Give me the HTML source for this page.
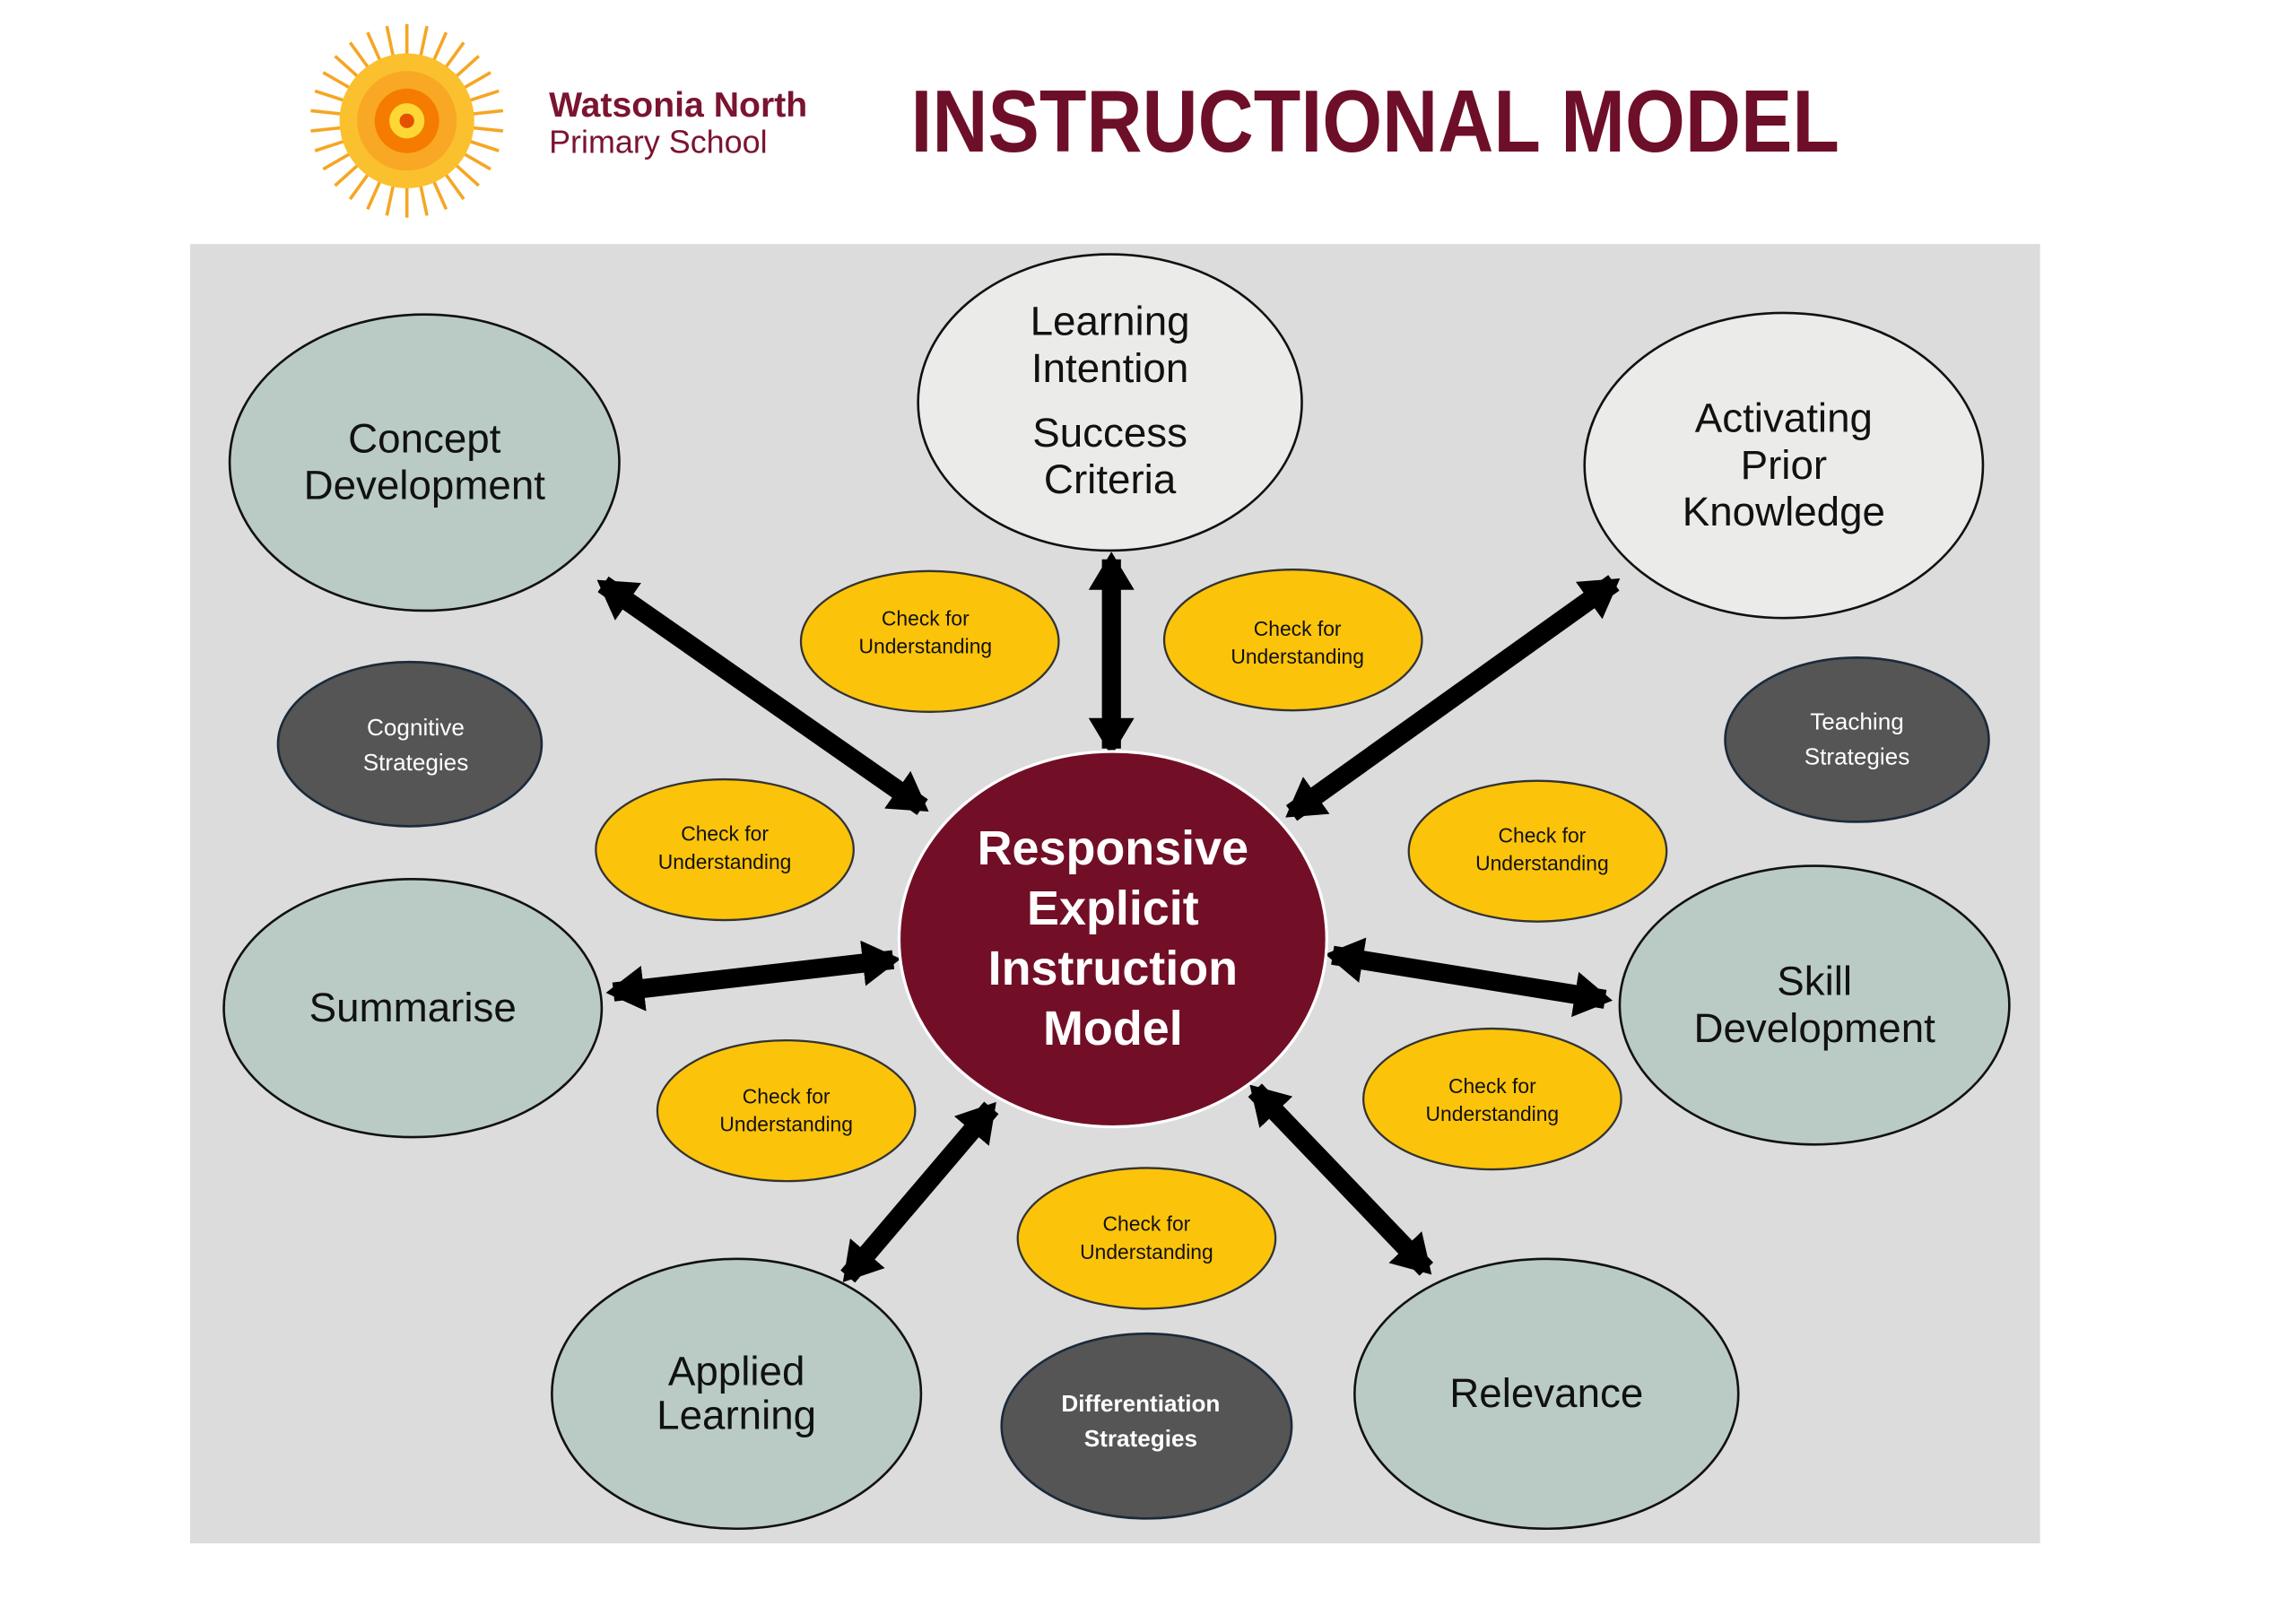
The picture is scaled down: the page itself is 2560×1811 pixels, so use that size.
<!DOCTYPE html>
<html><head><meta charset="utf-8"><style>
html,body{margin:0;padding:0;background:#fff;}
svg{display:block;font-family:"Liberation Sans",sans-serif;}
</style></head><body>
<svg width="2560" height="1811" viewBox="0 0 1560 1103.6" preserveAspectRatio="none" xmlns="http://www.w3.org/2000/svg">
<defs>
<marker id="ah" viewBox="0 0 2 2.4" markerWidth="2" markerHeight="2.4" refX="1.6" refY="1.2" orient="auto-start-reverse" markerUnits="strokeWidth">
<path d="M0,0 L2,1.2 L0,2.4 z" fill="#000"/>
</marker>
</defs>
<rect width="1560" height="1104" fill="#fff"/>
<g transform="matrix(0.9952 0 0 0.9966 -0.2 -0.6)">
<g transform="translate(278,83)">
<g stroke="#f5a623" stroke-width="2.2">
<line x1="0" y1="-44" x2="0" y2="-66" transform="rotate(0)"/><line x1="0" y1="-44" x2="0" y2="-66" transform="rotate(12)"/><line x1="0" y1="-44" x2="0" y2="-66" transform="rotate(24)"/><line x1="0" y1="-44" x2="0" y2="-66" transform="rotate(36)"/><line x1="0" y1="-44" x2="0" y2="-66" transform="rotate(48)"/><line x1="0" y1="-44" x2="0" y2="-66" transform="rotate(60)"/><line x1="0" y1="-44" x2="0" y2="-66" transform="rotate(72)"/><line x1="0" y1="-44" x2="0" y2="-66" transform="rotate(84)"/><line x1="0" y1="-44" x2="0" y2="-66" transform="rotate(96)"/><line x1="0" y1="-44" x2="0" y2="-66" transform="rotate(108)"/><line x1="0" y1="-44" x2="0" y2="-66" transform="rotate(120)"/><line x1="0" y1="-44" x2="0" y2="-66" transform="rotate(132)"/><line x1="0" y1="-44" x2="0" y2="-66" transform="rotate(144)"/><line x1="0" y1="-44" x2="0" y2="-66" transform="rotate(156)"/><line x1="0" y1="-44" x2="0" y2="-66" transform="rotate(168)"/><line x1="0" y1="-44" x2="0" y2="-66" transform="rotate(180)"/><line x1="0" y1="-44" x2="0" y2="-66" transform="rotate(192)"/><line x1="0" y1="-44" x2="0" y2="-66" transform="rotate(204)"/><line x1="0" y1="-44" x2="0" y2="-66" transform="rotate(216)"/><line x1="0" y1="-44" x2="0" y2="-66" transform="rotate(228)"/><line x1="0" y1="-44" x2="0" y2="-66" transform="rotate(240)"/><line x1="0" y1="-44" x2="0" y2="-66" transform="rotate(252)"/><line x1="0" y1="-44" x2="0" y2="-66" transform="rotate(264)"/><line x1="0" y1="-44" x2="0" y2="-66" transform="rotate(276)"/><line x1="0" y1="-44" x2="0" y2="-66" transform="rotate(288)"/><line x1="0" y1="-44" x2="0" y2="-66" transform="rotate(300)"/><line x1="0" y1="-44" x2="0" y2="-66" transform="rotate(312)"/><line x1="0" y1="-44" x2="0" y2="-66" transform="rotate(324)"/><line x1="0" y1="-44" x2="0" y2="-66" transform="rotate(336)"/><line x1="0" y1="-44" x2="0" y2="-66" transform="rotate(348)"/>
</g>
<circle r="46" fill="#fbc02d"/>
<circle r="34" fill="#f9a825"/>
<circle r="22" fill="#f57c00"/>
<circle r="12" fill="#fdd835"/>
<circle r="5" fill="#e65100"/>
</g>
<text x="375" y="80" font-size="24" font-weight="bold" fill="#7a1430">Watsonia North</text>
<text x="375" y="105" font-size="22" fill="#7a1430">Primary School</text>
<text x="622" y="104" font-size="60" font-weight="bold" fill="#6e0f29" textLength="634" lengthAdjust="spacingAndGlyphs">INSTRUCTIONAL MODEL</text>
<rect x="130" y="167" width="1263" height="886" fill="#dcdcdc"/>
<g stroke="#000" stroke-width="13" marker-start="url(#ah)" marker-end="url(#ah)">
<line x1="630" y1="551" x2="412" y2="399"/>
<line x1="759" y1="382" x2="759" y2="511"/>
<line x1="882" y1="555" x2="1102" y2="398"/>
<line x1="419" y1="677" x2="610" y2="655"/>
<line x1="910" y1="652" x2="1096" y2="682"/>
<line x1="579" y1="871" x2="677" y2="756"/>
<line x1="857" y1="744" x2="974" y2="866"/>
</g>
<g stroke="#111" stroke-width="1.6">
<ellipse cx="290" cy="316" rx="133" ry="101" fill="#b9cbc4"/>
<ellipse cx="758" cy="275" rx="131" ry="101" fill="#ebebea"/>
<ellipse cx="1218" cy="318" rx="136" ry="104" fill="#ebebea"/>
<ellipse cx="282" cy="688" rx="129" ry="88" fill="#b9cbc4"/>
<ellipse cx="1239" cy="686" rx="133" ry="95" fill="#b9cbc4"/>
<ellipse cx="503" cy="951" rx="126" ry="92" fill="#b9cbc4"/>
<ellipse cx="1056" cy="951" rx="131" ry="92" fill="#b9cbc4"/>
</g>
<g stroke="#1b2a3a" stroke-width="1.6" fill="#555">
<ellipse cx="280" cy="508" rx="90" ry="56"/>
<ellipse cx="1268" cy="505" rx="90" ry="56"/>
<ellipse cx="783" cy="973" rx="99" ry="63"/>
</g>
<g stroke="#333" stroke-width="1.4" fill="#fcc30b">
<ellipse cx="635" cy="438" rx="88" ry="48"/>
<ellipse cx="883" cy="437" rx="88" ry="48"/>
<ellipse cx="495" cy="580" rx="88" ry="48"/>
<ellipse cx="1050" cy="581" rx="88" ry="48"/>
<ellipse cx="537" cy="758" rx="88" ry="48"/>
<ellipse cx="1019" cy="750" rx="88" ry="48"/>
<ellipse cx="783" cy="845" rx="88" ry="48"/>
</g>
<ellipse cx="760" cy="641" rx="146" ry="128" fill="#720f27" stroke="#fff" stroke-width="2"/>
<g font-size="28" fill="#111" text-anchor="middle">
<text x="290" y="309">Concept</text><text x="290" y="341">Development</text>
<text x="758" y="229">Learning</text><text x="758" y="261">Intention</text>
<text x="758" y="305">Success</text><text x="758" y="337">Criteria</text>
<text x="1218" y="295">Activating</text><text x="1218" y="327">Prior</text><text x="1218" y="359">Knowledge</text>
<text x="282" y="697">Summarise</text>
<text x="1239" y="679">Skill</text><text x="1239" y="711">Development</text>
<text x="503" y="945">Applied</text><text x="503" y="975">Learning</text>
<text x="1056" y="960">Relevance</text>
</g>
<g font-size="16" fill="#fff" text-anchor="middle">
<text x="284" y="502">Cognitive</text><text x="284" y="526">Strategies</text>
<text x="1268" y="498">Teaching</text><text x="1268" y="522">Strategies</text>
<text x="779" y="963" font-weight="bold">Differentiation</text><text x="779" y="987" font-weight="bold">Strategies</text>
</g>
<g font-size="14" fill="#111" text-anchor="middle">
<text x="632" y="427">Check for</text><text x="632" y="446">Understanding</text>
<text x="886" y="434">Check for</text><text x="886" y="453">Understanding</text>
<text x="495" y="574">Check for</text><text x="495" y="593">Understanding</text>
<text x="1053" y="575">Check for</text><text x="1053" y="594">Understanding</text>
<text x="537" y="753">Check for</text><text x="537" y="772">Understanding</text>
<text x="1019" y="746">Check for</text><text x="1019" y="765">Understanding</text>
<text x="783" y="840">Check for</text><text x="783" y="859">Understanding</text>
</g>
<g font-size="33" font-weight="bold" fill="#fff" text-anchor="middle">
<text x="760" y="590">Responsive</text>
<text x="760" y="631">Explicit</text>
<text x="760" y="672">Instruction</text>
<text x="760" y="713">Model</text>
</g>
</g>
</svg>
</body></html>
